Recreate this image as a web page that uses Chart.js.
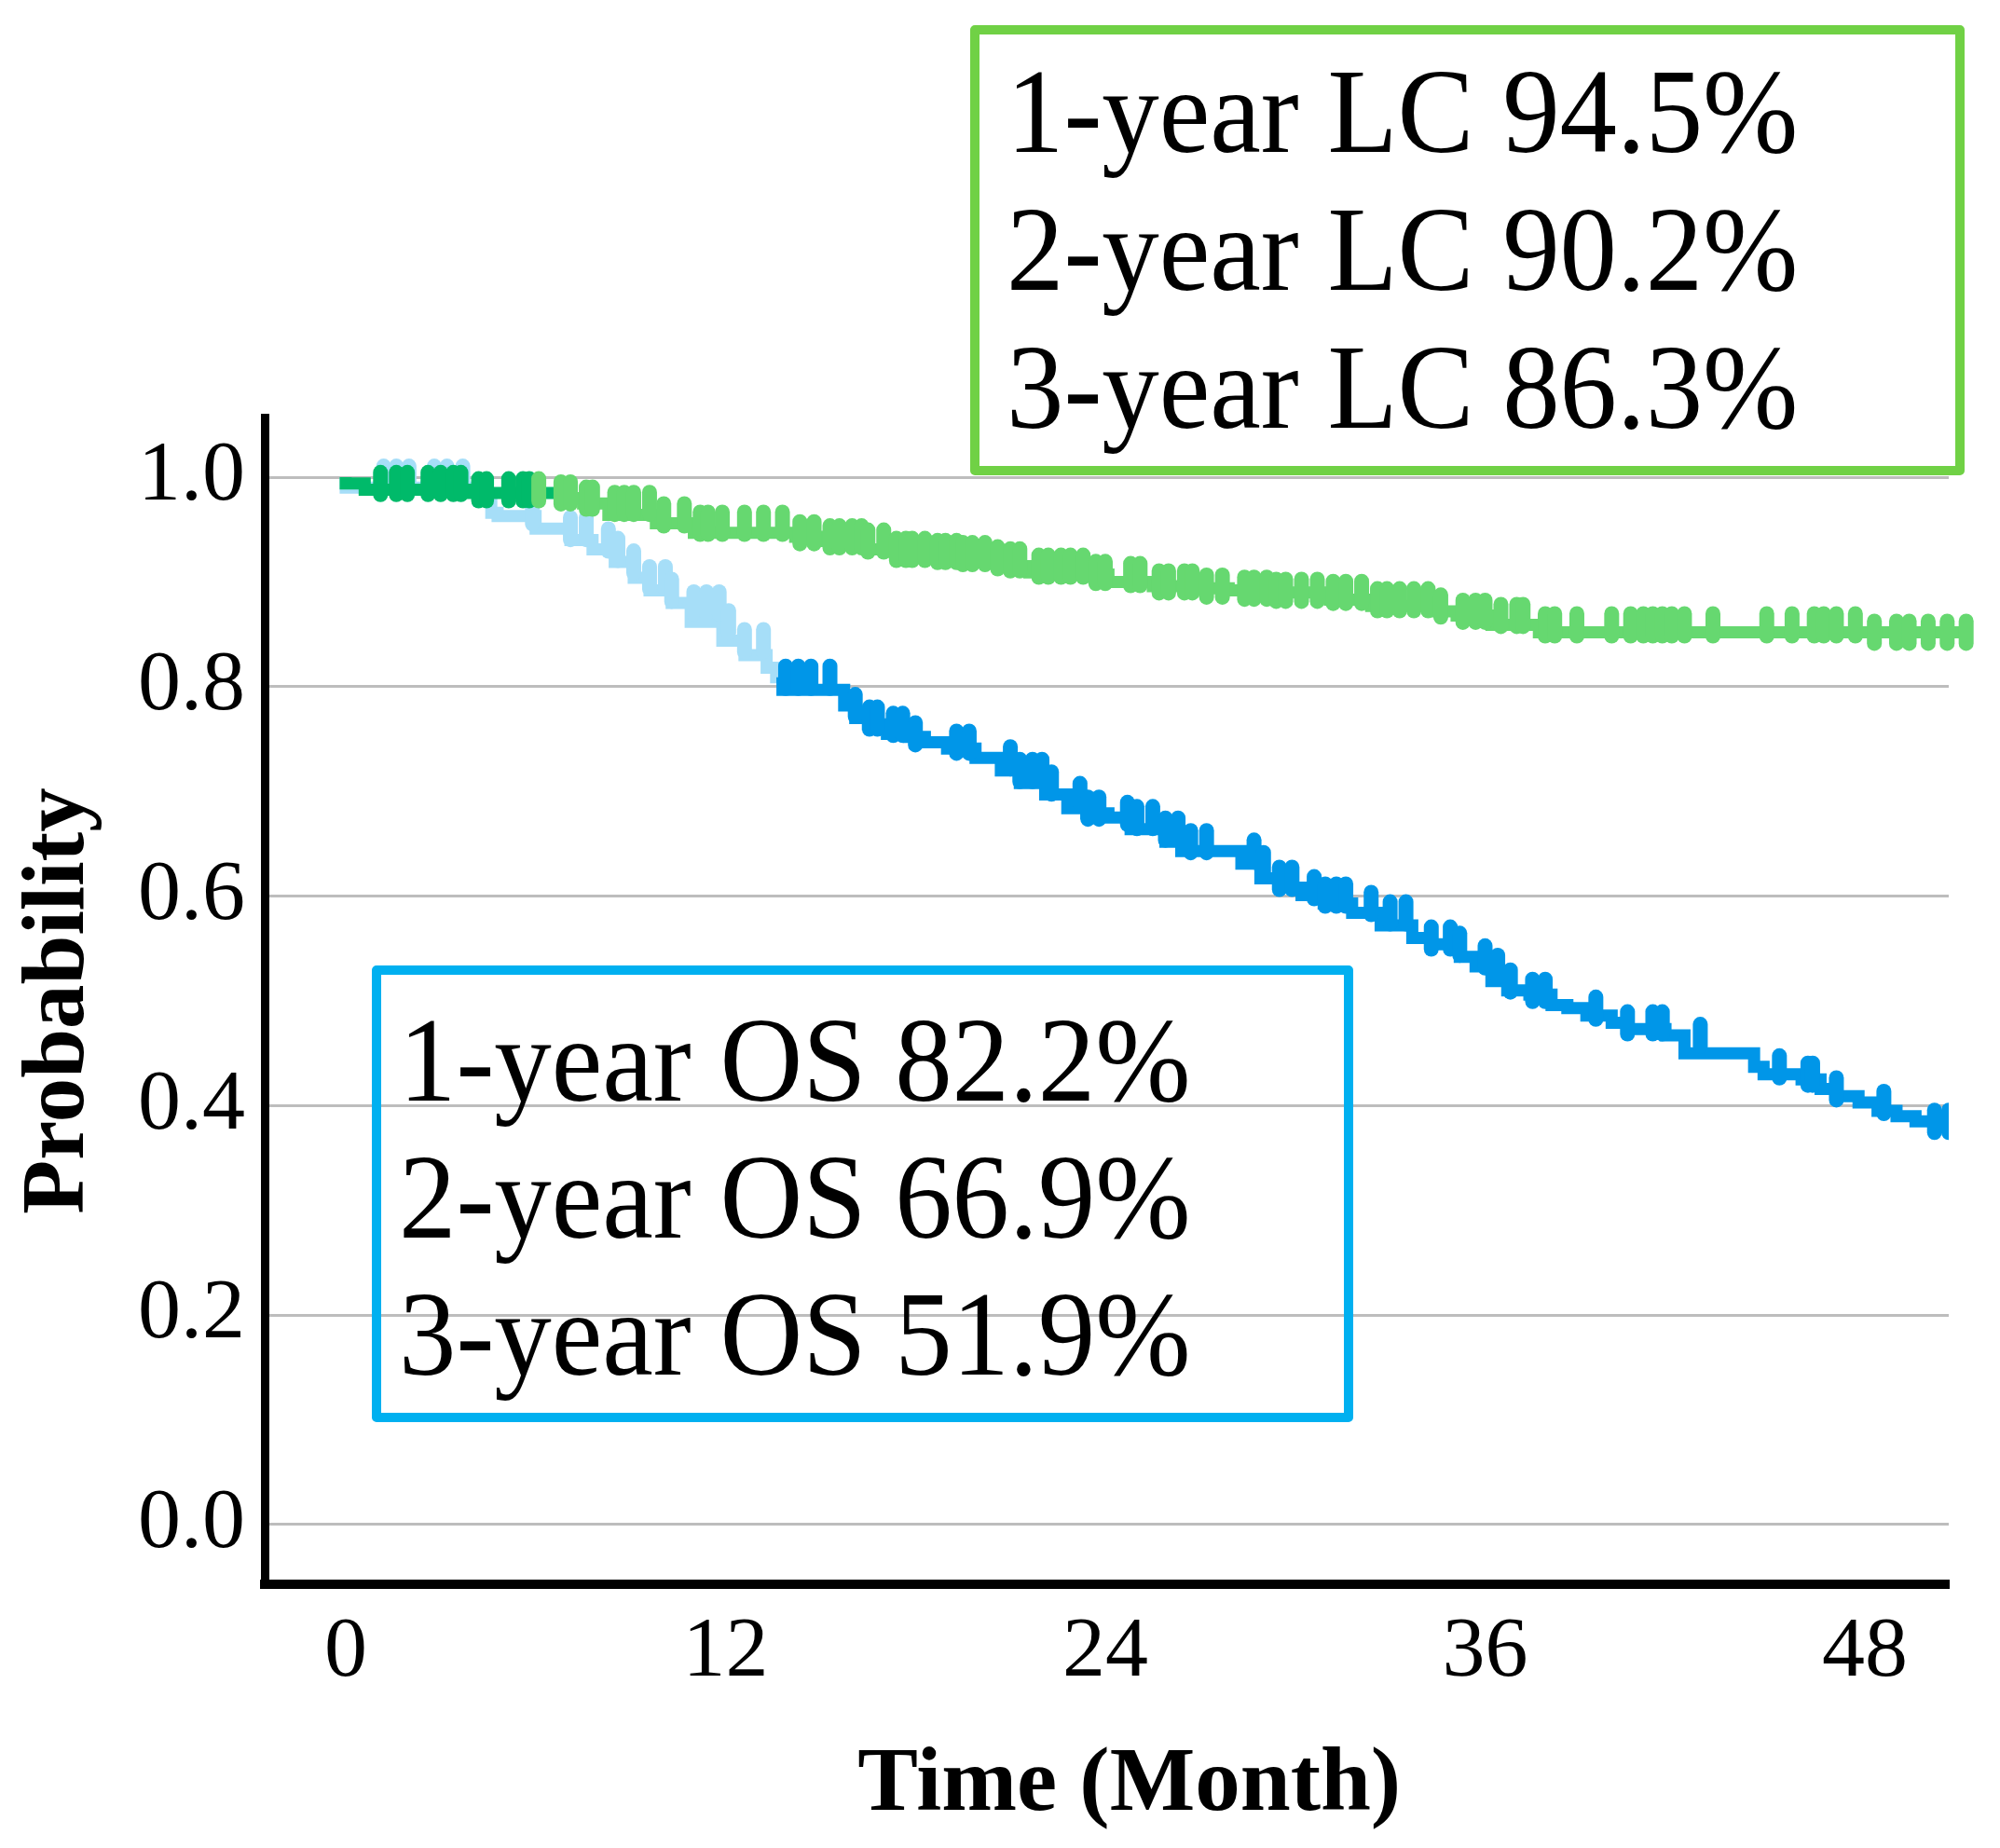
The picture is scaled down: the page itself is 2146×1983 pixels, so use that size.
<!DOCTYPE html>
<html>
<head>
<meta charset="utf-8">
<script src="https://cdn.jsdelivr.net/npm/chart.js@4.4.1/dist/chart.umd.min.js"></script>
<style>
  body { margin: 0; background: #fff; }
  canvas { display: block; }
</style>
</head>
<body>
<canvas id="km" width="2146" height="1983"></canvas>
<script>
// x ticks (months) and y ticks (probability)
const xTicks = [0, 12, 24, 36, 48];
const yTicks = [0, 0.2, 0.4, 0.6, 0.8, 1.0];

// overall survival: step start times and survival from that time on
const osTimes = [0, 4.2, 4.6, 4.8, 6.0, 7.1, 7.8, 8.5, 9.1, 9.6, 10.3, 10.9, 11.9, 12.6, 13.3, 13.6, 13.8,
  15.75, 16.1, 16.5, 17.1, 17.8, 18.3, 19.0, 19.9, 20.7, 21.3, 22.1, 22.8, 23.4, 24.1, 24.8, 25.9, 26.4,
  28.3, 28.9, 29.5, 30.2, 30.9, 31.8, 32.7, 33.7, 34.3, 35.2, 35.7, 36.2, 36.7, 37.4, 38.1, 38.6, 39.2,
  40.0, 40.5, 41.7, 42.3, 44.5, 44.8, 46.0, 46.6, 47.1, 47.8, 48.4, 49.0, 49.6, 50.2, 50.65];
const osSurv = [1.0, 0.990, 0.978, 0.966, 0.963, 0.951, 0.940, 0.931, 0.919, 0.904, 0.892, 0.880, 0.862, 0.844, 0.830, 0.818, 0.809,
  0.797, 0.782, 0.770, 0.764, 0.755, 0.752, 0.747, 0.741, 0.732, 0.720, 0.708, 0.697, 0.684, 0.679, 0.675, 0.664, 0.652,
  0.643, 0.631, 0.617, 0.608, 0.601, 0.593, 0.584, 0.572, 0.560, 0.554, 0.542, 0.533, 0.519, 0.510, 0.506, 0.496, 0.493,
  0.486, 0.479, 0.473, 0.467, 0.450, 0.437, 0.430, 0.425, 0.416, 0.409, 0.403, 0.395, 0.390, 0.385, 0.385];
const osCensored = [1.2, 1.6, 2.0, 2.8, 3.2, 3.7, 5.9, 7.1, 7.6, 8.3, 8.6, 9.1, 9.6, 10.1, 10.3, 11.0, 11.4, 11.8,
  12.1, 12.6, 13.2, 13.9, 14.3, 14.7, 15.3, 16.1, 16.55, 16.8, 17.3, 17.6, 18.0, 19.3, 19.7, 21.0, 21.3, 21.7,
  22.0, 22.3, 23.2, 23.45, 23.8, 24.7, 25.0, 25.5, 25.9, 26.3, 26.7, 27.2, 28.7, 29.0, 29.5, 29.9, 30.6, 30.95,
  31.3, 31.6, 32.4, 33.0, 33.5, 34.3, 34.9, 35.2, 36.0, 36.4, 36.8, 37.5, 37.9, 39.5, 40.5, 41.3, 41.6, 42.8,
  45.3, 46.2, 46.35, 47.1, 48.6, 50.2, 50.65];

// local control
const lcTimes = [0, 0.6, 4.0, 6.8, 7.5, 8.3, 9.8, 11.0, 14.2, 15.0, 16.5, 17.2, 18.4, 19.5, 20.3, 20.8, 21.6,
  23.5, 24.1, 25.5, 27.0, 27.9, 29.2, 31.1, 32.4, 34.5, 35.1, 36.2, 37.7, 48.1, 51.3];
const lcSurv = [1.0, 0.994, 0.988, 0.985, 0.980, 0.975, 0.964, 0.956, 0.947, 0.943, 0.939, 0.931, 0.929, 0.927, 0.923, 0.921, 0.915,
  0.909, 0.907, 0.900, 0.896, 0.894, 0.892, 0.890, 0.883, 0.877, 0.872, 0.868, 0.859, 0.852, 0.852];
const lcCensored = [1.1, 1.6, 1.95, 2.6, 3.0, 3.4, 3.64, 4.2, 4.45, 5.15, 5.6, 5.8, 6.1, 6.8, 7.1, 7.6, 7.8, 8.5,
  8.8, 9.1, 9.6, 10.05, 10.7, 11.2, 11.45, 11.9, 12.6, 13.2, 13.8, 14.35, 14.8, 15.3, 15.6, 16.0, 16.3, 16.5,
  17.0, 17.4, 17.7, 17.9, 18.3, 18.7, 18.95, 19.3, 19.5, 19.8, 20.2, 20.6, 21.0, 21.3, 21.9, 22.2, 22.6, 22.9,
  23.3, 23.7, 24.0, 24.8, 25.1, 25.7, 26.0, 26.5, 26.75, 27.2, 27.7, 28.4, 28.7, 29.1, 29.4, 29.7, 30.2, 30.7,
  31.2, 31.6, 32.1, 32.6, 32.9, 33.3, 33.75, 34.2, 34.6, 35.3, 35.7, 36.0, 36.5, 37.0, 37.2, 37.9, 38.2, 38.9,
  40.0, 40.6, 41.0, 41.3, 41.6, 41.9, 42.3, 43.2, 44.9, 45.7, 46.4, 46.7, 47.1, 47.7, 48.3, 49.0, 49.4, 50.0,
  50.6, 51.2];

const osText = ['1-year OS 82.2%', '2-year OS 66.9%', '3-year OS 51.9%'];
const lcText = ['1-year LC 94.5%', '2-year LC 90.2%', '3-year LC 86.3%'];

const OS_LIGHT = '#A6DEF8';
const OS_DARK = '#0096E8';
const LC_GREEN = '#66D870';
const LC_DARK = '#00BA6A';
const OS_SWITCH = 13.8;
const LC_SWITCH = 5.9;

function valueAt(times, vals, t) {
  let v = vals[0];
  for (let i = 0; i < times.length; i++) {
    if (times[i] <= t) v = vals[i];
  }
  return v;
}

const toPoints = (times, vals) => times.map((t, i) => ({ x: t, y: vals[i] }));
const toMarks = (cens, times, vals) => cens.map((t) => ({ x: t, y: valueAt(times, vals, t) }));

// round caps on the censor ticks
const capPlugin = {
  id: 'caps',
  beforeDatasetDraw(chart) {
    chart.ctx.save();
    chart.ctx.lineCap = 'round';
  },
  afterDatasetDraw(chart) {
    chart.ctx.restore();
  },
};

// the two text boxes
const boxPlugin = {
  id: 'boxes',
  afterDraw(chart) {
    const ctx = chart.ctx;
    ctx.save();
    ctx.lineWidth = 10;
    ctx.lineJoin = 'round';
    ctx.strokeStyle = '#70D145';
    ctx.strokeRect(1046, 32, 1057, 473);
    ctx.strokeStyle = '#00B0F0';
    ctx.strokeRect(404, 1041, 1043, 480);
    ctx.fillStyle = '#000';
    ctx.font = '130px "Liberation Serif", "Times New Roman", serif';
    ctx.textBaseline = 'alphabetic';
    ctx.textAlign = 'left';
    const put = (s, x, y) => {
      ctx.save();
      ctx.translate(x, y);
      ctx.scale(0.945, 1);
      ctx.fillText(s, 0, 0);
      ctx.restore();
    };
    lcText.forEach((s, i) => put(s, 1080, 163 + i * 148));
    osText.forEach((s, i) => put(s, 428, 1181 + i * 147));
    ctx.restore();
  },
};

const markOpts = {
  type: 'scatter',
  pointStyle: 'line',
  pointRotation: 90,
  pointRadius: 12,
  pointHoverRadius: 12,
  pointBorderWidth: 16,
  borderWidth: 16,
  showLine: false,
};

const ctx = document.getElementById('km').getContext('2d');

new Chart(ctx, {
  type: 'line',
  data: {
    datasets: [
      {
        data: toPoints(lcTimes, lcSurv),
        stepped: 'after',
        borderWidth: 13,
        borderColor: LC_GREEN,
        segment: {
          borderColor: (c) => (c.p0.parsed.x < LC_SWITCH ? LC_DARK : LC_GREEN),
        },
        pointRadius: 0,
        clip: false,
        order: 2,
      },
      {
        ...markOpts,
        data: toMarks(lcCensored, lcTimes, lcSurv),
        pointBorderColor: (c) => (c.raw && c.raw.x < LC_SWITCH ? LC_DARK : LC_GREEN),
        clip: false,
        order: 1,
      },
      {
        data: toPoints(osTimes, osSurv),
        stepped: 'after',
        borderWidth: 13,
        borderColor: OS_DARK,
        segment: {
          borderColor: (c) => (c.p0.parsed.x < OS_SWITCH ? OS_LIGHT : OS_DARK),
        },
        pointRadius: 0,
        order: 4,
      },
      {
        ...markOpts,
        data: toMarks(osCensored, osTimes, osSurv),
        pointBorderColor: (c) => (c.raw && c.raw.x < OS_SWITCH ? OS_LIGHT : OS_DARK),
        order: 3,
      },
    ],
  },
  options: {
    responsive: false,
    devicePixelRatio: 1,
    animation: false,
    layout: { padding: { top: 448, left: 0, right: 55, bottom: 0 } },
    plugins: { legend: { display: false }, tooltip: { enabled: false } },
    scales: {
      x: {
        type: 'linear',
        min: -2.56,
        max: 50.65,
        afterBuildTicks: (s) => { s.ticks = xTicks.map((v) => ({ value: v })); },
        afterFit: (s) => { s.height = 283; },
        grid: { display: false, drawTicks: false },
        border: { display: true, color: '#000', width: 10 },
        ticks: {
          padding: 19,
          color: '#000',
          font: { family: '"Liberation Serif", "Times New Roman", serif', size: 92 },
        },
        title: {
          display: true,
          text: '\u2002Time (Month)',
          color: '#000',
          padding: { top: 0, bottom: 8 },
          font: { family: '"Liberation Serif", "Times New Roman", serif', size: 97, weight: 'bold' },
        },
      },
      y: {
        min: -0.057,
        max: 1.057,
        afterBuildTicks: (s) => { s.ticks = yTicks.map((v) => ({ value: v })); },
        afterFit: (s) => { s.width = 284; },
        grid: { color: '#BDBDBD', lineWidth: 3, drawTicks: false },
        border: { display: true, color: '#000', width: 9 },
        ticks: {
          padding: 21,
          color: '#000',
          callback: (v) => Number(v).toFixed(1),
          font: { family: '"Liberation Serif", "Times New Roman", serif', size: 92 },
        },
        title: {
          display: true,
          text: 'Probability',
          color: '#000',
          padding: { top: 7, bottom: 0 },
          font: { family: '"Liberation Serif", "Times New Roman", serif', size: 95, weight: 'bold' },
        },
      },
    },
  },
  plugins: [capPlugin, boxPlugin],
});
</script>
</body>
</html>
